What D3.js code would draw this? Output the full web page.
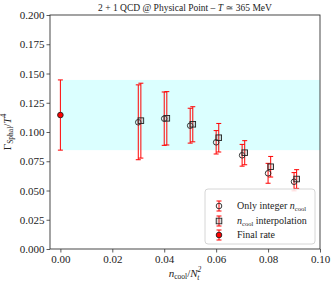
<!DOCTYPE html>
<html>
<head>
<meta charset="utf-8">
<script src="https://cdn.jsdelivr.net/npm/d3@7"></script>
<style>
  body { margin: 0; background: #fff; }
  svg text { font-family: "Liberation Serif", "DejaVu Serif", serif; fill: #222; }
</style>
</head>
<body>
<svg class="svg"></svg>
<script>
const svgWidth = 335, svgHeight = 285;

// only integer n_cool (circles)
const nCool = [0.03, 0.04, 0.05, 0.06, 0.07, 0.08, 0.09];
const intRate = [0.1083, 0.1114, 0.1054, 0.0912, 0.0801, 0.0647, 0.0575];
const intErr = [0.0320, 0.0228, 0.0149, 0.0100, 0.0093, 0.0085, 0.0078];

// n_cool interpolation (squares)
const nInterp = [0.031, 0.041, 0.051, 0.061, 0.071, 0.081, 0.091];
const interpRate = [0.1097, 0.1117, 0.1066, 0.0951, 0.0823, 0.0703, 0.0598];
const interpErr = [0.0320, 0.0228, 0.0150, 0.0122, 0.0103, 0.0088, 0.0080];

// final rate
const finalX = [0.0];
const finalRate = [0.1145];
const finalErr = [0.0300];

const xTicks = [0.00, 0.02, 0.04, 0.06, 0.08, 0.10];
const yTicks = [0.000, 0.025, 0.050, 0.075, 0.100, 0.125, 0.150, 0.175, 0.200];

const mLeft = 50, mRight = 320, mTop = 15, mBottom = 249;

const svg = d3.select(".svg")
    .attr("width", svgWidth)
    .attr("height", svgHeight);

const xScale = d3.scaleLinear().domain([-0.004, 0.1]).range([mLeft, mRight]);
const yScale = d3.scaleLinear().domain([0, 0.2]).range([mBottom, mTop]);

// band for the final rate
svg.append("rect")
    .attr("x", xScale(finalX[0]))
    .attr("y", yScale(finalRate[0] + finalErr[0]))
    .attr("width", xScale(0.1) - xScale(finalX[0]))
    .attr("height", yScale(finalRate[0] - finalErr[0]) - yScale(finalRate[0] + finalErr[0]))
    .attr("fill", "#dbffff");

// axes
const xAxis = svg.append("g")
    .attr("transform", `translate(0,${mBottom})`)
    .call(d3.axisBottom(xScale).tickValues(xTicks).tickFormat(d3.format(".2f")).tickSize(3.5).tickPadding(3));
const yAxis = svg.append("g")
    .attr("transform", `translate(${mLeft},0)`)
    .call(d3.axisLeft(yScale).tickValues(yTicks).tickFormat(d3.format(".3f")).tickSize(3.5).tickPadding(2));

[xAxis, yAxis].forEach(a => {
    a.select(".domain").remove();
    a.selectAll("line").attr("stroke", "#333").attr("stroke-width", 0.8);
    a.selectAll("text").attr("font-size", 11).attr("fill", "#222")
        .style("font-family", "'Liberation Serif', serif");
});

// frame
svg.append("rect")
    .attr("x", mLeft).attr("y", mTop)
    .attr("width", mRight - mLeft).attr("height", mBottom - mTop)
    .attr("fill", "none").attr("stroke", "#333").attr("stroke-width", 0.9);

// error bars helper
function errorBars(xs, ys, es) {
    const g = svg.append("g").attr("stroke", "red").attr("stroke-width", 1);
    xs.forEach((x, i) => {
        const cx = xScale(x), y1 = yScale(ys[i] + es[i]), y2 = yScale(ys[i] - es[i]);
        g.append("line").attr("x1", cx).attr("x2", cx).attr("y1", y1).attr("y2", y2);
        g.append("line").attr("x1", cx - 2.5).attr("x2", cx + 2.5).attr("y1", y1).attr("y2", y1);
        g.append("line").attr("x1", cx - 2.5).attr("x2", cx + 2.5).attr("y1", y2).attr("y2", y2);
    });
}

errorBars(nCool, intRate, intErr);
errorBars(nInterp, interpRate, interpErr);
errorBars(finalX, finalRate, finalErr);

svg.selectAll(".circ")
    .data(nCool)
    .enter()
    .append("circle")
    .attr("cx", d => xScale(d))
    .attr("cy", (d, i) => yScale(intRate[i]))
    .attr("r", 2.8)
    .attr("fill", "none")
    .attr("stroke", "#222")
    .attr("stroke-width", 0.9);

svg.selectAll(".sq")
    .data(nInterp)
    .enter()
    .append("rect")
    .attr("x", d => xScale(d) - 2.8)
    .attr("y", (d, i) => yScale(interpRate[i]) - 2.8)
    .attr("width", 5.6)
    .attr("height", 5.6)
    .attr("fill", "rgba(120,120,120,0.25)")
    .attr("stroke", "#222")
    .attr("stroke-width", 0.9);

svg.selectAll(".fin")
    .data(finalX)
    .enter()
    .append("circle")
    .attr("cx", d => xScale(d))
    .attr("cy", (d, i) => yScale(finalRate[i]))
    .attr("r", 2.8)
    .attr("fill", "red")
    .attr("stroke", "#222")
    .attr("stroke-width", 0.9);

// title
svg.append("text")
    .attr("x", (mLeft + mRight) / 2).attr("y", 11)
    .attr("text-anchor", "middle").attr("font-size", 9.5)
    .html('2 + 1 QCD @ Physical Point – <tspan font-style="italic">T</tspan> ≃ 365 MeV');

// x label
svg.append("text")
    .attr("x", (mLeft + mRight) / 2).attr("y", 277)
    .attr("text-anchor", "middle").attr("font-size", 11)
    .html('<tspan font-style="italic">n</tspan><tspan font-size="7.5" dy="2">cool</tspan><tspan dy="-2">/</tspan><tspan font-style="italic">N</tspan><tspan font-size="7.5" font-style="italic" dy="-5">2</tspan><tspan font-size="7.5" font-style="italic" dx="-4" dy="8">t</tspan>');

// y label
svg.append("text")
    .attr("transform", `translate(11,${(mTop + mBottom) / 2}) rotate(-90)`)
    .attr("text-anchor", "middle").attr("font-size", 11)
    .html('Γ<tspan font-size="7.5" dy="2">Sphal</tspan><tspan dy="-2">/</tspan><tspan font-style="italic">T</tspan><tspan font-size="7.5" dy="-5">4</tspan>');

// legend
const lg = svg.append("g");
lg.append("rect")
    .attr("x", 205).attr("y", 189).attr("width", 110).attr("height", 55)
    .attr("rx", 3).attr("fill", "white").attr("fill-opacity", 0.85)
    .attr("stroke", "#ccc").attr("stroke-width", 0.8);

const legendRows = [
    { y: 206, shape: "circle", label: 'Only integer <tspan font-style="italic">n</tspan><tspan font-size="6.5" dy="2">cool</tspan>' },
    { y: 221, shape: "square", label: '<tspan font-style="italic">n</tspan><tspan font-size="6.5" dy="2">cool</tspan><tspan dy="-2"> interpolation</tspan>' },
    { y: 235, shape: "final", label: 'Final rate' }
];

legendRows.forEach(r => {
    const mx = 219;
    lg.append("line").attr("x1", mx).attr("x2", mx).attr("y1", r.y - 5).attr("y2", r.y + 5).attr("stroke", "red").attr("stroke-width", 1);
    lg.append("line").attr("x1", mx - 2.5).attr("x2", mx + 2.5).attr("y1", r.y - 5).attr("y2", r.y - 5).attr("stroke", "red").attr("stroke-width", 1);
    lg.append("line").attr("x1", mx - 2.5).attr("x2", mx + 2.5).attr("y1", r.y + 5).attr("y2", r.y + 5).attr("stroke", "red").attr("stroke-width", 1);
    if (r.shape === "square") {
        lg.append("rect").attr("x", mx - 2.8).attr("y", r.y - 2.8).attr("width", 5.6).attr("height", 5.6)
            .attr("fill", "rgba(120,120,120,0.25)").attr("stroke", "#222").attr("stroke-width", 0.9);
    } else {
        lg.append("circle").attr("cx", mx).attr("cy", r.y).attr("r", 2.8)
            .attr("fill", r.shape === "final" ? "red" : "none").attr("stroke", "#222").attr("stroke-width", 0.9);
    }
    lg.append("text").attr("x", 237).attr("y", r.y + 3).attr("font-size", 10).html(r.label);
});
</script>
</body>
</html>
